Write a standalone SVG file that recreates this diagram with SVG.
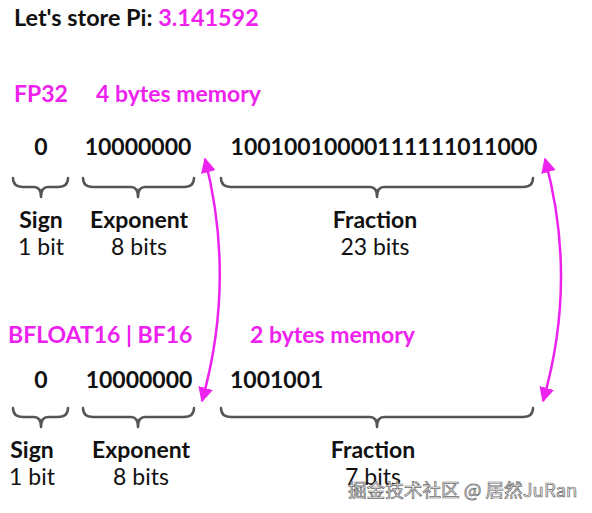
<svg xmlns="http://www.w3.org/2000/svg" width="592" height="513" viewBox="0 0 592 513">
<defs>
<style>
text{font-family:Lato,"Noto Sans",sans-serif;font-size:23px;fill:#111}
.t{font-size:23.4px}
.b{font-weight:bold}
.m{fill:#ee22ee;font-weight:bold}
.c{text-anchor:middle}
.brace{fill:none;stroke:#555;stroke-width:2.5;stroke-linecap:round;stroke-linejoin:round}
.arr{fill:none;stroke:#ee22ee;stroke-width:2.5}
.wm{font-family:"Noto Sans CJK SC","Noto Sans",sans-serif;font-size:18.6px;fill:#f2f2f2;stroke:#6a6a6a;stroke-width:0.7}
</style>
<marker id="ah" viewBox="0 0 10 10" refX="9" refY="5" markerWidth="6" markerHeight="6" orient="auto-start-reverse" markerUnits="strokeWidth">
<path d="M0,0 L10,5 L0,10 Z" fill="#ee22ee"/>
</marker>
</defs>
<g id="title">
<text x="14" y="26" class="b t">Let's store Pi: <tspan class="m">3.141592</tspan></text>
</g>
<g id="fp32">
<text x="14" y="102" class="m">FP32</text>
<text x="96" y="102" class="m">4 bytes memory</text>
<text x="41" y="155" class="b c">0</text>
<text x="138" y="155" class="b c">10000000</text>
<text x="384" y="155" class="b c">10010010000111111011000</text>
<path class="brace" d="M13,178 Q13,187 23,187 L34,187 Q41,187 41,197 Q41,187 48,187 L58,187 Q68,187 68,178"/>
<path class="brace" d="M83,178 Q83,187 93,187 L131,187 Q138,187 138,197 Q138,187 145,187 L184,187 Q194,187 194,178"/>
<path class="brace" d="M221,178 Q221,187 231,187 L370,187 Q377,187 377,197 Q377,187 384,187 L523,187 Q533,187 533,178"/>
<text x="41" y="228" class="b c">Sign</text>
<text x="41" y="255" class="c">1 bit</text>
<text x="139" y="228" class="b c">Exponent</text>
<text x="139" y="255" class="c">8 bits</text>
<text x="375" y="228" class="b c">Fraction</text>
<text x="375" y="255" class="c">23 bits</text>
</g>
<g id="bf16">
<text x="8" y="343" class="m">BFLOAT16 | BF16</text>
<text x="250" y="343" class="m">2 bytes memory</text>
<text x="41" y="388" class="b c">0</text>
<text x="139" y="388" class="b c">10000000</text>
<text x="230" y="388" class="b">1001001</text>
<path class="brace" d="M13,408 Q13,417 23,417 L34,417 Q41,417 41,427 Q41,417 48,417 L58,417 Q68,417 68,408"/>
<path class="brace" d="M83,408 Q83,417 93,417 L131,417 Q138,417 138,427 Q138,417 145,417 L184,417 Q194,417 194,408"/>
<path class="brace" d="M221,408 Q221,417 231,417 L370,417 Q377,417 377,427 Q377,417 384,417 L523,417 Q533,417 533,408"/>
<text x="32" y="458" class="b c">Sign</text>
<text x="32" y="485" class="c">1 bit</text>
<text x="141" y="458" class="b c">Exponent</text>
<text x="141" y="485" class="c">8 bits</text>
<text x="373" y="458" class="b c">Fraction</text>
<text x="373" y="485" class="c">7 bits</text>
</g>
<g id="connectors">
<path class="arr" d="M205,159 Q236,280 202,401" marker-start="url(#ah)" marker-end="url(#ah)"/>
<path class="arr" d="M545,159 Q578,280 543,401" marker-start="url(#ah)" marker-end="url(#ah)"/>
</g>
<text x="348" y="497" class="wm">掘金技术社区 @ 居然JuRan</text>
</svg>
